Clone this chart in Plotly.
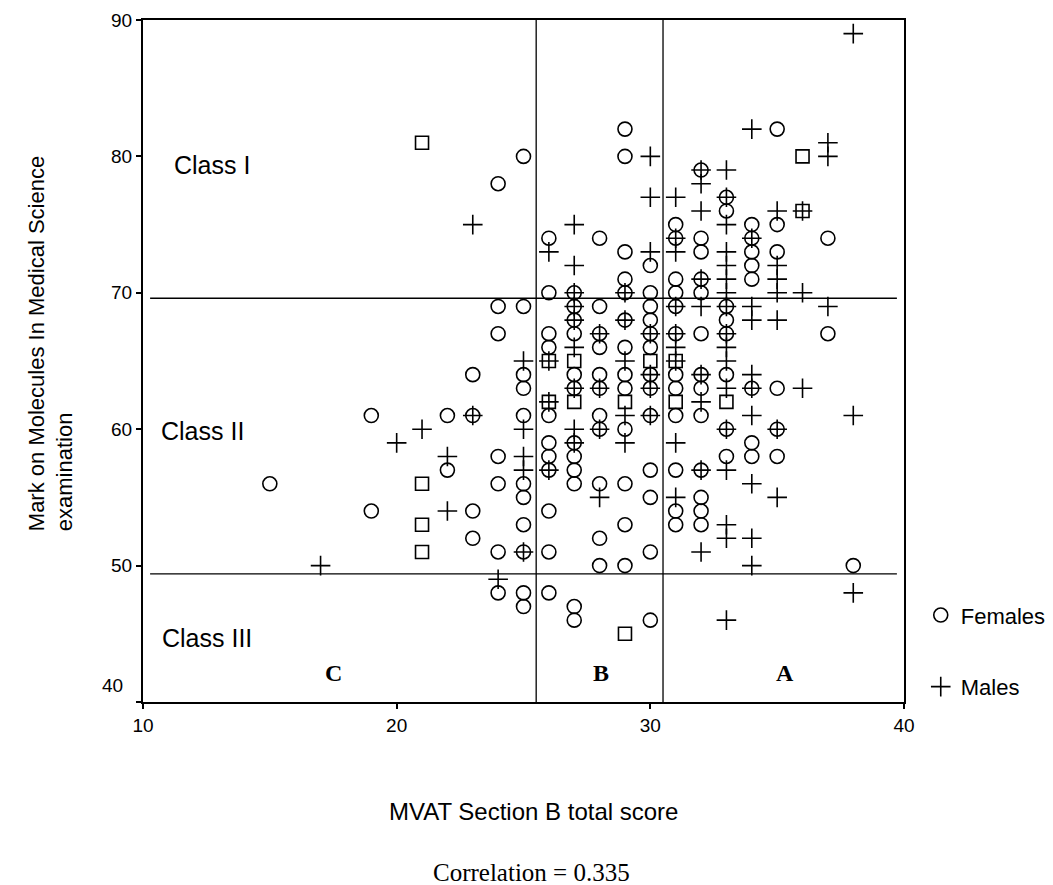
import plotly.graph_objects as go

# ---- data (MVAT score, MMS mark) ----
female_x = [15,
            19, 19,
            22, 22,
            23, 23, 23, 23,
            24, 24, 24, 24, 24, 24, 24,
            25, 25, 25, 25, 25, 25, 25, 25, 25, 25, 25,
            26, 26, 26, 26, 26, 26, 26, 26, 26, 26, 26,
            27, 27, 27, 27, 27, 27, 27, 27, 27, 27, 27, 27,
            28, 28, 28, 28, 28, 28, 28, 28, 28, 28, 28,
            29, 29, 29, 29, 29, 29, 29, 29, 29, 29, 29, 29, 29,
            30, 30, 30, 30, 30, 30, 30, 30, 30, 30, 30, 30, 30,
            31, 31, 31, 31, 31, 31, 31, 31, 31, 31, 31, 31,
            32, 32, 32, 32, 32, 32, 32, 32, 32, 32, 32, 32, 32,
            33, 33, 33, 33, 33, 33, 33, 33,
            34, 34, 34, 34, 34, 34, 34, 34,
            35, 35, 35, 35, 35, 35,
            37, 37,
            38]
female_y = [56,
            61, 54,
            61, 57,
            64, 61, 54, 52,
            78, 69, 67, 58, 56, 51, 48,
            80, 69, 64, 63, 61, 56, 55, 53, 51, 48, 47,
            74, 70, 67, 66, 61, 59, 58, 57, 54, 51, 48,
            70, 69, 68, 67, 64, 63, 59, 58, 57, 56, 47, 46,
            74, 69, 67, 66, 64, 63, 61, 60, 56, 52, 50,
            82, 80, 73, 71, 70, 68, 66, 64, 63, 60, 56, 53, 50,
            72, 70, 69, 68, 67, 66, 64, 63, 61, 57, 55, 51, 46,
            75, 74, 71, 70, 69, 67, 64, 63, 61, 57, 54, 53,
            79, 74, 73, 71, 70, 67, 64, 63, 61, 57, 55, 54, 53,
            77, 76, 69, 68, 67, 64, 60, 58,
            75, 74, 73, 72, 71, 63, 59, 58,
            82, 75, 73, 63, 60, 58,
            74, 67,
            50]

# coinciding pairs of female students (drawn as squares in the original)
female_pair_x = [21, 21, 21, 21, 26, 26, 27, 27, 29, 29, 30, 31, 31, 33, 36, 36]
female_pair_y = [81, 56, 53, 51, 65, 62, 65, 62, 62, 45, 65, 65, 62, 62, 80, 76]

male_x = [17,
          20,
          21,
          22, 22,
          23, 23,
          24,
          25, 25, 25, 25, 25,
          26, 26, 26, 26,
          27, 27, 27, 27, 27, 27, 27, 27, 27,
          28, 28, 28, 28,
          29, 29, 29, 29, 29,
          30, 30, 30, 30, 30, 30, 30,
          31, 31, 31, 31, 31, 31, 31, 31, 31,
          32, 32, 32, 32, 32, 32, 32, 32, 32,
          33, 33, 33, 33, 33, 33, 33, 33, 33, 33, 33, 33, 33, 33, 33, 33, 33,
          34, 34, 34, 34, 34, 34, 34, 34, 34, 34,
          35, 35, 35, 35, 35, 35, 35,
          36, 36, 36,
          37, 37, 37,
          38, 38, 38]
male_y = [50,
          59,
          60,
          58, 54,
          75, 61,
          49,
          65, 60, 58, 57, 51,
          73, 65, 62, 57,
          75, 72, 70, 69, 68, 66, 63, 60, 59,
          67, 63, 60, 55,
          70, 68, 65, 61, 59,
          80, 77, 73, 67, 64, 63, 61,
          77, 74, 73, 69, 67, 66, 65, 59, 55,
          79, 78, 76, 71, 69, 64, 62, 57, 51,
          79, 77, 75, 73, 72, 71, 70, 69, 67, 66, 65, 63, 60, 57, 53, 52, 46,
          82, 74, 69, 68, 64, 63, 61, 56, 52, 50,
          76, 72, 71, 70, 68, 60, 55,
          76, 70, 63,
          81, 80, 69,
          89, 61, 48]

x_ticks = [10, 20, 30, 40]
y_ticks = [40, 50, 60, 70, 80, 90]
y_ticktext = ["", "50", "60", "70", "80", "90"]

section_cuts = [25.5, 30.5]     # MVAT group boundaries
class_cuts = [69.6, 49.4]       # class boundaries
class_labels = ["Class I", "Class II", "Class III"]
class_label_y = [79.4, 59.9, 44.7]
class_label_x = [11.14, 10.63, 10.67]
group_labels = ["C", "B", "A"]
group_label_x = [17.5, 28.05, 35.3]

SANS = "Liberation Sans, Arial, sans-serif"
SERIF = "Liberation Serif, Times New Roman, serif"

fig = go.Figure()
fig.add_trace(go.Scatter(
    x=female_x, y=female_y, mode="markers", name="Females", legendgroup="f",
    marker=dict(symbol="circle-open", size=14, color="black",
                line=dict(width=1.6, color="black"))))
fig.add_trace(go.Scatter(
    x=female_pair_x, y=female_pair_y, mode="markers", showlegend=False,
    marker=dict(symbol="square-open", size=13, color="black",
                line=dict(width=1.6, color="black"))))
fig.add_trace(go.Scatter(
    x=male_x, y=male_y, mode="markers", name="Males", legendgroup="m",
    marker=dict(symbol="cross-thin-open", size=14, color="black",
                line=dict(width=1.6, color="black"))))

shapes = []
for c in section_cuts:
    shapes.append(dict(type="line", xref="x", yref="y", x0=c, x1=c, y0=40, y1=90.25,
                       line=dict(color="black", width=1.3)))
for c in class_cuts:
    shapes.append(dict(type="line", xref="x", yref="y", x0=10.28, x1=39.72, y0=c, y1=c,
                       line=dict(color="black", width=1.3)))

annotations = []
for t, xx, yy in zip(class_labels, class_label_x, class_label_y):
    annotations.append(dict(text=t, x=xx, y=yy, xref="x", yref="y", showarrow=False,
                            xanchor="left", yanchor="middle",
                            font=dict(family=SANS, size=25, color="black")))
for t, xx in zip(group_labels, group_label_x):
    annotations.append(dict(text="<b>" + t + "</b>", x=xx, y=42.1, xref="x", yref="y",
                            showarrow=False, xanchor="center", yanchor="middle",
                            font=dict(family=SERIF, size=24, color="black")))
annotations.append(dict(text="40", x=0, y=40, xref="paper", yref="y", showarrow=False,
                        xanchor="right", yanchor="middle", xshift=-18, yshift=17,
                        font=dict(family=SANS, size=19, color="black")))
annotations.append(dict(text="Mark on Molecules In Medical Science<br>examination",
                        x=-0.121, y=0.526, xref="paper", yref="paper", showarrow=False,
                        textangle=-90, align="left", xanchor="center", yanchor="middle",
                        font=dict(family=SANS, size=22, color="black")))
annotations.append(dict(text="MVAT Section B total score", x=0.5125, y=-0.161,
                        xref="paper", yref="paper", showarrow=False,
                        xanchor="center", yanchor="middle",
                        font=dict(family=SANS, size=24, color="black")))
annotations.append(dict(text="Correlation = 0.335", x=0.511, y=-0.2507,
                        xref="paper", yref="paper", showarrow=False,
                        xanchor="center", yanchor="middle",
                        font=dict(family=SERIF, size=25, color="black")))

fig.update_layout(
    width=1053, height=885,
    margin=dict(l=143, r=149, t=20, b=183, autoexpand=False),
    paper_bgcolor="white", plot_bgcolor="white",
    shapes=shapes, annotations=annotations,
    showlegend=True,
    legend=dict(x=1.022, xanchor="left", y=0.158, yanchor="top",
                font=dict(family=SANS, size=22, color="black"),
                tracegroupgap=40, bgcolor="rgba(0,0,0,0)"),
    xaxis=dict(range=[10, 40], tickvals=x_ticks, ticks="outside", ticklen=5,
               tickwidth=1.5, tickcolor="black", showline=True, linewidth=2,
               linecolor="black", mirror=True, showgrid=False, zeroline=False,
               tickfont=dict(family=SANS, size=19, color="black")),
    yaxis=dict(range=[40, 90], tickvals=y_ticks, ticktext=y_ticktext, ticks="outside",
               ticklen=5, tickwidth=1.5, tickcolor="black", showline=True, linewidth=2,
               linecolor="black", mirror=True, showgrid=False, zeroline=False,
               tickfont=dict(family=SANS, size=19, color="black")),
)

fig.write_html("out.html")
